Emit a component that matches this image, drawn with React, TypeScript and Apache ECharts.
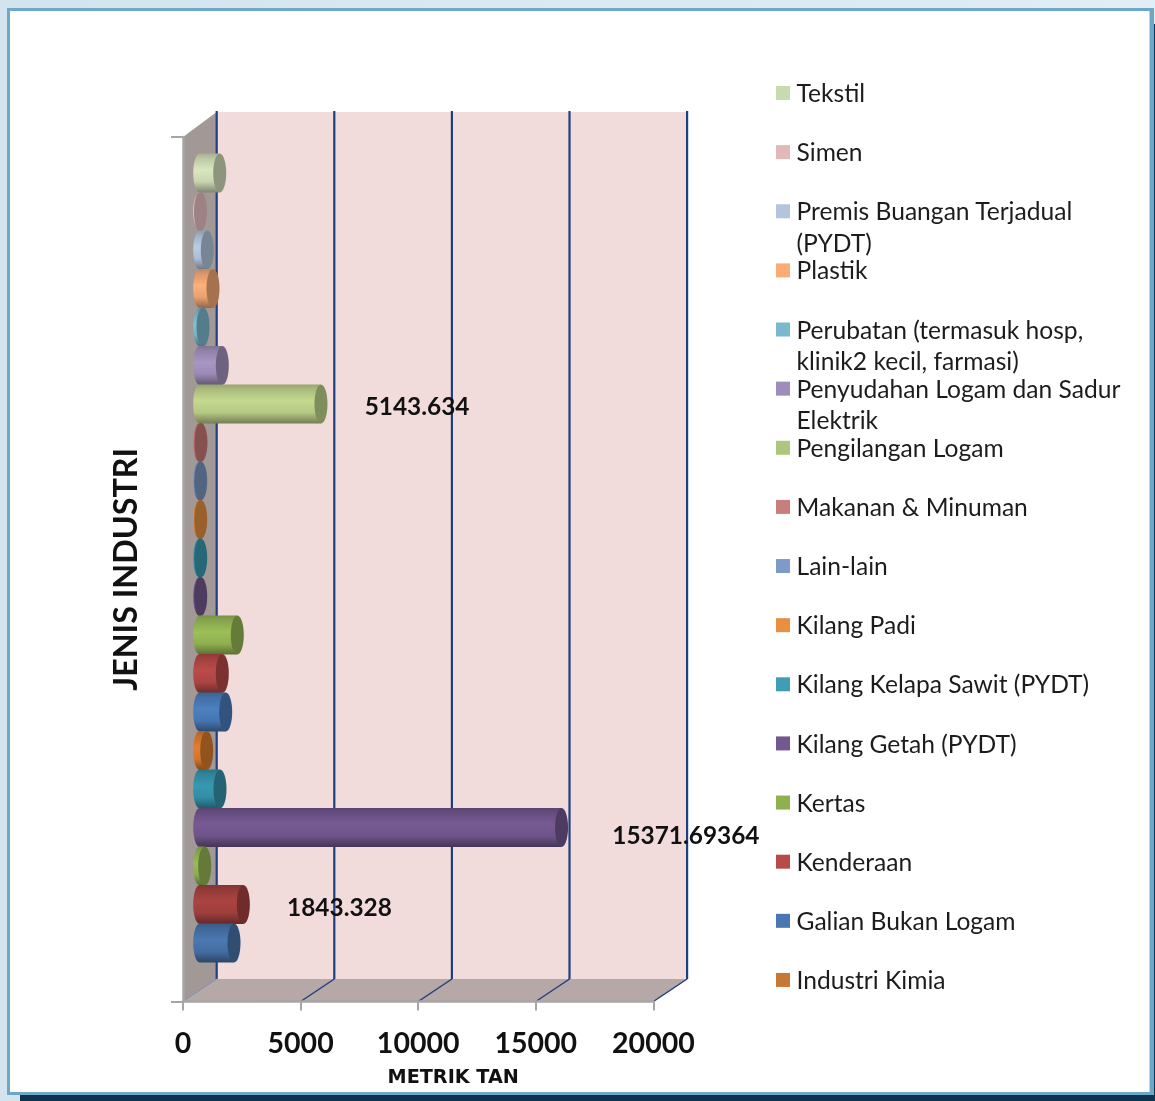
import React, { useEffect, useRef } from "react";
import * as echarts from "echarts";

const CATEGORIES = [
  "Tekstil", "Simen", "Premis Buangan Terjadual (PYDT)", "Plastik",
  "Perubatan (termasuk hosp, klinik2 kecil, farmasi)", "Penyudahan Logam dan Sadur Elektrik",
  "Pengilangan Logam", "Makanan & Minuman", "Lain-lain", "Kilang Padi",
  "Kilang Kelapa Sawit (PYDT)", "Kilang Getah (PYDT)", "Kertas", "Kenderaan",
  "Galian Bukan Logam", "Industri Kimia", "Siri 17", "Siri 18", "Siri 19", "Siri 20", "Siri 21",
];
const VALUES = [
  838, 20, 310, 553, 128, 948, 5143.634, 40, 30, 30, 30, 30, 1586, 948, 1093, 285,
  850, 15371.69364, 200, 1843.328, 1446,
];
const LABELLED = [5143.634, 15371.69364, 1843.328];
const BAR_COLORS = [
  "#d9e7bf", "#f0c8c8", "#b9cde5", "#fcb07a", "#7fc1d4", "#a796c4", "#c5d98f",
  "#cd7b78", "#7c9bc8", "#ed9344", "#3a9fb8", "#775a94", "#9cbf58", "#bb4b49",
  "#4c80c0", "#e27f2f", "#3699b2", "#775a94", "#98bb56", "#ab4441", "#4a78b0",
];
const LEGEND_NAMES = [
  "Tekstil", "Simen", "Premis Buangan Terjadual\n(PYDT)", "Plastik",
  "Perubatan (termasuk hosp,\nklinik2 kecil, farmasi)", "Penyudahan Logam dan Sadur\nElektrik",
  "Pengilangan Logam", "Makanan & Minuman", "Lain-lain", "Kilang Padi",
  "Kilang Kelapa Sawit (PYDT)", "Kilang Getah (PYDT)", "Kertas", "Kenderaan",
  "Galian Bukan Logam", "Industri Kimia",
];
const LEGEND_COLORS = [
  "#c8dab0", "#e3b8b9", "#b3c4de", "#fbab74", "#79b9cd", "#9e8dbb", "#adc67d", "#ca7e7c",
  "#7d9bc7", "#ea8f3f", "#3f9db5", "#73578f", "#8fb04f", "#b84a48", "#4a76b2", "#c77934",
];
const X_TICKS = [0, 5000, 10000, 15000, 20000];
const Y_AXIS_TITLE = "JENIS INDUSTRI";
const X_AXIS_TITLE = "METRIK TAN";
const Y_GROUP = ["Jenis"];

const DEPTH_X = 33.7;
const DEPTH_TOP = 25;
const DEPTH_BOTTOM = 22.5;
const NAVY = "#1f3f80";
const AXIS_GREY = "#a6a6a6";

function shade(hex: string, f: number) {
  const n = parseInt(hex.slice(1), 16);
  const c = [(n >> 16) & 255, (n >> 8) & 255, n & 255].map((v) => Math.min(255, Math.round(v * f)));
  return `rgb(${c[0]},${c[1]},${c[2]})`;
}

function bodyFill(hex: string) {
  return new echarts.graphic.LinearGradient(0, 0, 0, 1, [
    { offset: 0, color: shade(hex, 0.76) },
    { offset: 0.12, color: shade(hex, 0.86) },
    { offset: 0.42, color: shade(hex, 1) },
    { offset: 0.72, color: shade(hex, 0.92) },
    { offset: 1, color: shade(hex, 0.58) },
  ]);
}

function renderWalls(params: any) {
  const c = params.coordSys;
  const l = c.x, r = c.x + c.width, t = c.y, b = c.y + c.height;
  return {
    type: "group",
    children: [
      { type: "polygon", shape: { points: [[l + DEPTH_X, t - DEPTH_TOP], [r + DEPTH_X, t - DEPTH_TOP], [r + DEPTH_X, b - DEPTH_BOTTOM], [l + DEPTH_X, b - DEPTH_BOTTOM]] }, style: { fill: "#f2dcdb" } },
      { type: "polygon", shape: { points: [[l, t], [l + DEPTH_X, t - DEPTH_TOP], [l + DEPTH_X, b - DEPTH_BOTTOM], [l, b]] }, style: { fill: "#a29896" } },
      { type: "polygon", shape: { points: [[l, b], [r, b], [r + DEPTH_X, b - DEPTH_BOTTOM], [l + DEPTH_X, b - DEPTH_BOTTOM]] }, style: { fill: "#b6a8a6" } },
    ],
  };
}

function renderGridLine(params: any, api: any) {
  const c = params.coordSys;
  const x = api.coord([api.value(0), 0])[0];
  const t = c.y, b = c.y + c.height;
  const style = { stroke: NAVY, lineWidth: 2.2, fill: "none" };
  const thin = api.value(0) === 0;
  return {
    type: "group",
    children: [
      { type: "line", shape: { x1: x + DEPTH_X, y1: t - DEPTH_TOP - 1, x2: x + DEPTH_X, y2: b - DEPTH_BOTTOM }, style },
      { type: "line", shape: { x1: x, y1: b, x2: x + DEPTH_X, y2: b - DEPTH_BOTTOM }, style: { stroke: thin ? "#7f8db0" : NAVY, lineWidth: thin ? 1 : 1.5, fill: "none" } },
    ],
  };
}

function renderCylinder(_params: any, api: any) {
  const i = _params.dataIndex;
  const v = api.value(0);
  const [x0, cy] = api.coord([0, api.value(1)]);
  const [x1] = api.coord([v, api.value(1)]);
  const hex = BAR_COLORS[i];
  const ry = 19.5, rx = 6.5;
  const children: any[] = [
    { type: "ellipse", shape: { cx: x0, cy, rx, ry }, style: { fill: bodyFill(hex) } },
    { type: "rect", shape: { x: x0, y: cy - ry, width: Math.max(0, x1 - x0), height: ry * 2 }, style: { fill: bodyFill(hex) } },
    { type: "ellipse", shape: { cx: x1 + 0.3, cy, rx, ry }, style: { fill: shade(hex, 0.65) } },
  ];
  if (LABELLED.indexOf(v) >= 0) {
    const big = v > 10000;
    children.push({
      type: "text",
      x: x1 + (big ? 51 : 44),
      y: cy + (big ? 6.5 : 1.5),
      style: { text: String(v), fill: "#111", font: "bold 24.4px 'Lato'", textAlign: "left", textVerticalAlign: "middle" },
    });
  }
  return { type: "group", children };
}

function frameGraphics() {
  const bg = new echarts.graphic.LinearGradient(0, 0, 1, 0, [
    { offset: 0, color: "#d3e4ee" },
    { offset: 1, color: "#e2edf4" },
  ]);
  const rect = (x: number, y: number, width: number, height: number, fill: any) => ({
    type: "rect", shape: { x, y, width, height }, style: { fill }, silent: true, z: -10,
  });
  return [
    rect(0, 0, 1155, 1101, bg),
    rect(20, 1095, 1135, 6, "#0d3350"),
    rect(1154, 24, 1, 1077, "#0d3350"),
    rect(7, 8, 1147, 1087, "#6ea8c9"),
    rect(10, 11, 1140, 1081, "#ffffff"),
    rect(1149, 11, 1, 1081, "#b9d4e4"),
  ];
}

function legendGraphics() {
  const out: any[] = [];
  LEGEND_NAMES.forEach((name, i) => {
    const y = 93 + i * 59.13;
    out.push({ type: "rect", shape: { x: 776, y: y - 7, width: 14, height: 14 }, style: { fill: LEGEND_COLORS[i] }, silent: true });
    out.push({
      type: "text", x: 796.5, y: y - 16.2,
      style: { text: name, fill: "#1c1c1c", font: "24.6px 'Lato'", lineHeight: 31.6, textAlign: "left", textVerticalAlign: "top" },
      silent: true,
    });
  });
  return out;
}

export default function App() {
  const ref = useRef<HTMLDivElement>(null);
  useEffect(() => {
    const chart = echarts.init(ref.current!, undefined, { renderer: "svg" });
    chart.setOption({
      animation: false,
      graphic: { elements: [...frameGraphics(), ...legendGraphics()] },
      grid: [
        { left: 199.7, top: 153.75, width: 470.4, height: 808.5 },
        { left: 183, top: 137, width: 470.4, height: 864.5 },
      ],
      xAxis: [
        { type: "value", gridIndex: 0, min: 0, max: 20000, show: false },
        {
          type: "value", gridIndex: 1, min: 0, max: 20000, interval: 5000, z: 5,
          splitLine: { show: false },
          axisLine: { show: true, lineStyle: { color: AXIS_GREY, width: 2.5 } },
          axisTick: { show: true, length: 9, lineStyle: { color: AXIS_GREY, width: 2 } },
          axisLabel: { margin: 25.5, color: "#111", fontFamily: "Lato", fontWeight: "bold", fontSize: 28.5, formatter: (v: number) => String(v) },
          name: X_AXIS_TITLE, nameLocation: "middle", nameGap: 65,
          nameTextStyle: { color: "#111", fontFamily: "DejaVu Sans", fontWeight: "bold", fontSize: 19.2, padding: [0, 0, 0, 70] },
        },
      ],
      yAxis: [
        { type: "category", gridIndex: 0, data: CATEGORIES, inverse: true, show: false },
        {
          type: "category", gridIndex: 1, data: Y_GROUP, z: 5,
          axisLine: { show: true, lineStyle: { color: AXIS_GREY, width: 2.5 } },
          axisTick: { show: true, length: 12, lineStyle: { color: AXIS_GREY, width: 2 } },
          axisLabel: { show: false },
          name: Y_AXIS_TITLE, nameLocation: "middle", nameGap: 43, nameRotate: 90,
          nameTextStyle: { color: "#111", fontFamily: "Lato", fontWeight: "bold", fontSize: 32.3 },
        },
      ],
      series: [
        { type: "custom", name: "walls", xAxisIndex: 1, yAxisIndex: 1, clip: false, z: 1, silent: true, data: [[0, 0]], renderItem: renderWalls },
        { type: "custom", name: "grid", xAxisIndex: 1, yAxisIndex: 1, clip: false, z: 2, silent: true, data: X_TICKS.map((t) => [t, 0]), encode: { x: 0, y: 1 }, renderItem: renderGridLine },
        { type: "custom", name: "bars", xAxisIndex: 0, yAxisIndex: 0, clip: false, z: 3, silent: true, data: VALUES.map((v, i) => [v, CATEGORIES[i]]), encode: { x: 0, y: 1 }, renderItem: renderCylinder },
      ],
    });
    return () => chart.dispose();
  }, []);
  return <div ref={ref} style={{ position: "fixed", left: 0, top: 0, width: 1155, height: 1101 }} />;
}
